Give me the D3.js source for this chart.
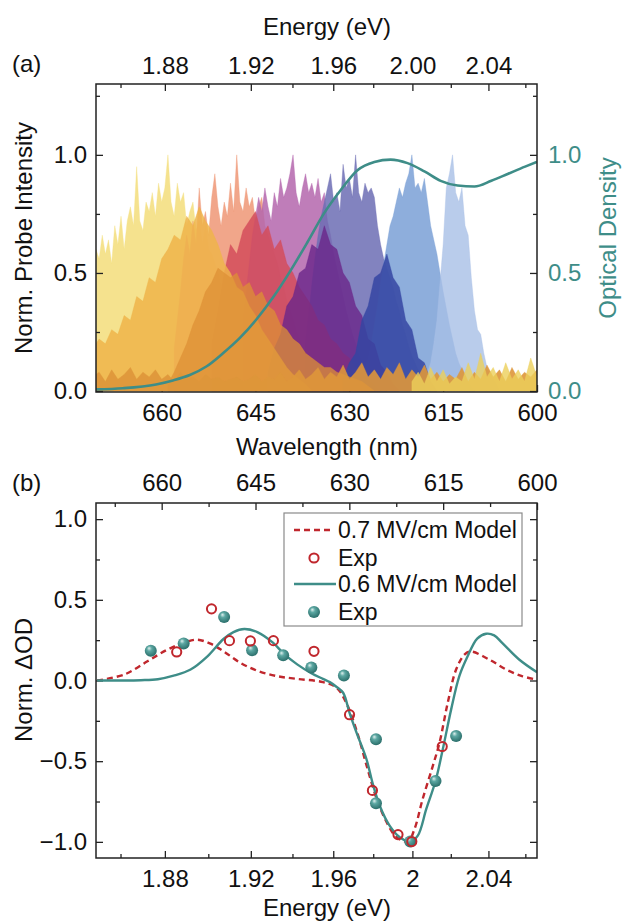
<!DOCTYPE html>
<html>
<head>
<meta charset="utf-8">
<script src="https://cdn.jsdelivr.net/npm/d3@7"></script>
<style>
  body { margin: 0; background: #fff; }
  svg text { font-family: "Liberation Sans", Arial, sans-serif; }
</style>
</head>
<body>
<svg id="chart" width="622" height="924"></svg>
<script>
var EV = 1239.84;   // eV * nm

// ---- panel (a): probe spectra. Light ones every 0.5 nm, dark ones every 1 nm,
// going down from the start wavelength
var yellowStart = 671,
    yellow = [.52, .60, .56, .66, .58, .64, .54, .70, .62, .74, .60, .72, .78, .70, .95, .72, .68, .80, .76, .84,
              .74, .88, .80, .86, 1.0, .80, .74, .88, .80, .84, .70, .76, .80, .68, .72, .62, .70, .60, .58, .54,
              .50, .44, .40, .36, .32, .28, .24, .20, .17, .14, .12, .10, .09, .08, .07, .06, .05, .05, .04, .04,
              .03, .03, .02, .02, .01, .01, 0];
var salmonStart = 658,
    salmon = [.18, .30, .42, .56, .66, .58, .72, .62, .86, .70, .76, .66, .82, .92, .78, .70, .80, .74, .88, .76,
              1.0, .80, .76, .86, .78, .82, .72, .78, .82, .70, .66, .62, .58, .54, .48, .44, .38, .34, .30, .25,
              .22, .18, .15, .12, .10, .08, .06, .04, .03, .02, 0];
var magentaStart = 647,
    magenta = [.30, .42, .54, .66, .74, .82, .76, .86, .78, .72, .84, .78, .90, .82, .86, .92, 1.0, .84, .78, .86,
               .92, .84, .88, .82, .90, .80, .84, .72, .66, .58, .52, .46, .40, .34, .29, .24, .20, .16, .13, .10,
               .08, .06, .05, .04, .03, .02, 0];
var bluePurpleStart = 637,
    bluePurple = [.20, .32, .45, .56, .66, .74, .80, .86, .92, .80, .84, .76, .96, .86, .90, .82, 1.0, .84, .80, .88,
                  .84, .86, .82, .70, .62, .56, .52, .48, .44, .38, .34, .28, .24, .19, .15, .12, .09, .07, .05, .03, 0];
var lightBlueStart = 628,
    lightBlue = [.06, .10, .14, .20, .28, .36, .46, .54, .62, .70, .74, .80, .86, .82, .88, .92, 1.0, .86, .88, .84,
                 .90, .80, .70, .64, .58, .50, .42, .35, .28, .22, .16, .12, .09, .06, .04, .02, 0];
var paleBlueStart = 618,
    paleBlue = [.04, .08, .12, .20, .30, .46, .62, .86, .92, 1.0, .84, .80, .86, .70, .66, .48, .34, .26, .24, .16,
                .10, .07, .05, .03, 0];
var redStart = 652,
    red = [.20, .34, .50, .62, .58, .68, .72, .76, .66, .70, .60, .64, .54, .50, .44, .40, .36, .30, .28, .22,
           .20, .16, .14, .10, .08, .05, .03, 0];
var darkPurpleStart = 643,
    darkPurple = [.08, .18, .24, .36, .40, .50, .52, .62, .60, .70, .62, .60, .50, .46, .36, .32, .22, .20, .11, .08, .03, 0];
var navyStart = 631,
    navy = [.05, .12, .16, .30, .36, .48, .50, .58, .48, .44, .30, .26, .14, .12, .04, 0];
var orangeStart = 671,
    orange = [.18, .22, .20, .26, .24, .32, .30, .40, .38, .48, .46, .56, .60, .66, .64, .74, .70, .78, .72, .68,
              .62, .54, .50, .44, .42, .36, .32, .26, .22, .18, .14, .10, .07, .05, .03, 0];
var darkOrangeStart = 659,
    darkOrange = [.03, .08, .14, .20, .28, .34, .42, .46, .52, .50, .48, .50, .44, .46, .40, .42, .36, .34, .28, .26,
                  .22, .20, .16, .14, .12, .10, .10, .08, .07, .06, .05, .04, .02, 0];
var floorStart = 671,
    floor = [.06, .08, .04, .09, .05, .07, .10, .05, .08, .06, .09, .05, .07, .04, .08, .05, .06, .04, .07, .05,
             .06, .04, .05, .06, .04, .05, .07, .04, .06, .05, .08, .04, .06, .09, .05, .07, .10, .05, .08, .06,
             .11, .05, .08, .12, .06, .09, .05, .10, .07, .12, .05, .09, .06, .11, .05, .08, .04, .07, .05, .10,
             .04, .08, .05, .11, .06, .09, .04, .10, .05, .08, .06, .09];
var yellowFloorStart = 620,
    yellowFloor = [.04, .08, .03, .10, .04, .09, .03, .06, .04, .12, .05, .16, .06, .10, .04, .12, .05, .09, .04, .14, .06];

// optical density of the sample
var odWl  = [670.6, 666.2, 660.9, 658.2, 655.5, 652.8, 650.2, 647.5, 644.8, 642.1, 639.4, 636.7, 634.1, 631.4,
             628.7, 626.0, 623.4, 620.7, 618.0, 615.4, 612.7, 610.0, 607.3, 604.6, 601.9, 600.0];
var odVal = [.007, .012, .028, .045, .068, .105, .16, .225, .305, .40, .51, .63, .75, .85,
             .935, .97, .98, .965, .93, .89, .87, .866, .89, .92, .95, .97];

// ---- panel (b): electroabsorption
var redModelE = [1.8496, 1.8617, 1.8721, 1.8811, 1.8886, 1.8949, 1.9010, 1.9071, 1.9150, 1.9232, 1.9325, 1.9421,
                 1.9549, 1.9617, 1.9668, 1.9717, 1.9767, 1.9818, 1.9868, 1.9919, 1.9977, 2.0011, 2.0053, 2.0106,
                 2.0141, 2.0184, 2.0228, 2.0272, 2.0304, 2.0404, 2.0496, 2.0582, 2.0664];
var redModelV = [0, .037, .119, .191, .233, .253, .228, .181, .11, .06, .027, .01,
                 -.01, -.045, -.148, -.313, -.529, -.735, -.878, -.971, -.998, -.92, -.735, -.529,
                 -.385, -.138, .068, .16, .18, .13, .068, .027, .005];
var tealModelE = [1.8496, 1.8615, 1.8691, 1.8768, 1.8840, 1.8918, 1.8996, 1.9071, 1.9118, 1.9169, 1.9231, 1.9307,
                  1.9355, 1.9423, 1.9492, 1.9549, 1.9583, 1.9617, 1.9649, 1.9681, 1.9716, 1.9766, 1.9796, 1.9833,
                  1.9883, 1.9935, 1.9989, 2.0028, 2.0072, 2.0120, 2.0158, 2.0202, 2.0245, 2.0289, 2.0340, 2.0388,
                  2.0431, 2.0474, 2.0566, 2.0664];
var tealModelV = [0, 0, .002, .008, .03, .068, .15, .257, .30, .319, .30, .233,
                  .17, .10, .045, .01, -.01, -.04, -.076, -.2, -.323, -.488, -.632, -.776,
                  -.899, -.971, -.998, -.961, -.796, -.623, -.426, -.179, .027, .15, .26, .29,
                  .28, .233, .13, .051];
var redExpE = [1.8854, 1.9015, 1.9099, 1.9198, 1.9308, 1.9505, 1.9681, 1.9796, 1.9926, 1.9997, 2.0155];
var redExpV = [.177, .444, .247, .245, .247, .181, -.212, -.681, -.955, -.998, -.409];
var tealExpE = [1.8736, 1.8886, 1.9074, 1.9206, 1.9355, 1.9492, 1.9653, 1.9814, 1.9814, 1.9989, 2.0120, 2.0228];
var tealExpV = [.185, .23, .393, .187, .156, .080, .031, -.364, -.761, -.998, -.623, -.344];

// ticks
var eMajor = [1.88, 1.92, 1.96, 2.00, 2.04],
    eMinor = [1.86, 1.90, 1.94, 1.98, 2.02, 2.06],
    eLabelsA = ["1.88", "1.92", "1.96", "2.00", "2.04"],
    eLabelsB = ["1.88", "1.92", "1.96", "2", "2.04"],
    wlMajor = [660, 645, 630, 615, 600],
    wlMinor = [667.5, 652.5, 637.5, 622.5, 607.5];

var FONT = "Liberation Sans, Arial, sans-serif",
    TEAL = "#3e8d88",
    DARKRED = "#c0272d";

var svg = d3.select("#chart");

var xA = d3.scaleLinear().domain([670.5, 600]).range([96, 537]),
    yA = d3.scaleLinear().domain([-0.004, 1.3]).range([392, 84]),
    xB = xA.copy(),
    yB = d3.scaleLinear().domain([-1.1, 1.1]).range([858, 503]);

var defs = svg.append("defs");
defs.append("clipPath").attr("id", "clipA")
    .append("rect").attr("x", 96).attr("y", 84).attr("width", 441).attr("height", 308);
defs.append("clipPath").attr("id", "clipB")
    .append("rect").attr("x", 96).attr("y", 503).attr("width", 441).attr("height", 355);
var ball = defs.append("radialGradient").attr("id", "ball")
    .attr("cx", "45%").attr("cy", "40%").attr("r", "60%").attr("fx", "35%").attr("fy", "30%");
ball.append("stop").attr("offset", "0%").attr("stop-color", "#dff0ee");
ball.append("stop").attr("offset", "35%").attr("stop-color", "#5ca7a2");
ball.append("stop").attr("offset", "100%").attr("stop-color", "#2a6e6a");

function styleAxis(g, textColor) {
  g.select(".domain").remove();
  g.attr("font-size", 24).attr("font-family", FONT);
  g.selectAll("text").attr("fill", textColor || "#111");
  g.selectAll("line").attr("stroke", "#222").attr("stroke-width", 1.3);
}

function addText(x, y, txt, opts) {
  opts = opts || {};
  var t = svg.append("text")
    .attr("x", x).attr("y", y)
    .attr("font-size", opts.size || 24)
    .attr("text-anchor", opts.anchor || "middle")
    .attr("fill", opts.color || "#111")
    .text(txt);
  if (opts.rotate) t.attr("transform", "rotate(-90," + x + "," + y + ")");
  return t;
}

// ---------------- panel (a)
var gA = svg.append("g");

// bottom wavelength ticks sit under the spectra
gA.append("g").attr("transform", "translate(0,392)")
  .call(d3.axisBottom(xA).tickValues(wlMajor).tickSizeInner(-7).tickSizeOuter(0).tickPadding(12))
  .call(styleAxis);

function spectrum(start, step, vals) {
  return vals.map(function(v, i) { return { wl: start - i * step, v: v }; });
}

var layers = [
  { d: spectrum(yellowStart, 0.5, yellow),         color: "#f4df82", op: 0.9 },
  { d: spectrum(salmonStart, 0.5, salmon),         color: "#ee9676", op: 0.85 },
  { d: spectrum(magentaStart, 0.5, magenta),       color: "#b466ad", op: 0.85 },
  { d: spectrum(bluePurpleStart, 0.5, bluePurple), color: "#6c6db4", op: 0.85 },
  { d: spectrum(lightBlueStart, 0.5, lightBlue),   color: "#7aa0d6", op: 0.85 },
  { d: spectrum(paleBlueStart, 0.5, paleBlue),     color: "#a7bfe6", op: 0.8 },
  { d: spectrum(redStart, 1, red),                 color: "#d44c5a", op: 0.85 },
  { d: spectrum(darkPurpleStart, 1, darkPurple),   color: "#6a2689", op: 0.8 },
  { d: spectrum(navyStart, 1, navy),               color: "#3545a2", op: 0.85 },
  { d: spectrum(orangeStart, 1, orange),           color: "#efb44a", op: 0.85 },
  { d: spectrum(darkOrangeStart, 1, darkOrange),   color: "#de9035", op: 0.75 },
  { d: spectrum(floorStart, 1, floor),             color: "#de963a", op: 0.9 },
  { d: spectrum(yellowFloorStart, 1, yellowFloor), color: "#eccf5a", op: 0.8 }
];

var area = d3.area()
  .x(function(d) { return xA(d.wl); })
  .y0(yA(0))
  .y1(function(d) { return yA(d.v); });

var spec = gA.append("g").attr("clip-path", "url(#clipA)");
spec.selectAll("path.spec")
  .data(layers)
  .enter().append("path")
  .attr("class", "spec")
  .attr("d", function(l) { return area(l.d); })
  .attr("fill", function(l) { return l.color; })
  .attr("fill-opacity", function(l) { return l.op; })
  .attr("stroke", function(l) { return l.color; })
  .attr("stroke-opacity", 0.6)
  .attr("stroke-width", 0.6);

var odLine = d3.line()
  .x(function(d, i) { return xA(odWl[i]); })
  .y(function(d) { return yA(d); })
  .curve(d3.curveMonotoneX);

spec.append("path")
  .datum(odVal)
  .attr("d", odLine)
  .attr("fill", "none")
  .attr("stroke", TEAL)
  .attr("stroke-width", 2.6);

// axes (a)
gA.append("g").attr("transform", "translate(96,0)")
  .call(d3.axisLeft(yA).tickValues([0, 0.5, 1]).tickFormat(d3.format(".1f"))
        .tickSizeInner(-7).tickSizeOuter(0).tickPadding(9))
  .call(styleAxis);
gA.append("g").attr("transform", "translate(96,0)")
  .call(d3.axisLeft(yA).tickValues([0.25, 0.75, 1.25]).tickFormat("").tickSize(-4))
  .call(styleAxis);
gA.append("g").attr("transform", "translate(537,0)")
  .call(d3.axisRight(yA).tickValues([0, 0.5, 1]).tickFormat(d3.format(".1f"))
        .tickSizeInner(-7).tickSizeOuter(0).tickPadding(11))
  .call(function(g) { styleAxis(g, TEAL); });
gA.append("g").attr("transform", "translate(537,0)")
  .call(d3.axisRight(yA).tickValues([0.25, 0.75, 1.25]).tickFormat("").tickSize(-4))
  .call(styleAxis);
gA.append("g").attr("transform", "translate(0,84)")
  .call(d3.axisTop(xA).tickValues(eMajor.map(function(e) { return EV / e; }))
        .tickFormat(function(d, i) { return eLabelsA[i]; })
        .tickSizeInner(-7).tickSizeOuter(0).tickPadding(10))
  .call(styleAxis);
gA.append("g").attr("transform", "translate(0,84)")
  .call(d3.axisTop(xA).tickValues(eMinor.map(function(e) { return EV / e; })).tickFormat("").tickSize(-4))
  .call(styleAxis);

gA.append("rect").attr("x", 96).attr("y", 84).attr("width", 441).attr("height", 308)
  .attr("fill", "none").attr("stroke", "#222").attr("stroke-width", 1.5);

addText(12, 72, "(a)", { anchor: "start" });
addText(327, 35, "Energy (eV)");
addText(327, 455, "Wavelength (nm)");
addText(32, 238, "Norm. Probe Intensity", { rotate: true });
addText(616, 238, "Optical Density", { rotate: true, color: TEAL });

// ---------------- panel (b)
var gB = svg.append("g");

gB.append("g").attr("transform", "translate(96,0)")
  .call(d3.axisLeft(yB).tickValues([-1, -0.5, 0, 0.5, 1]).tickFormat(d3.format(".1f"))
        .tickSizeInner(-7).tickSizeOuter(0).tickPadding(9))
  .call(styleAxis);
gB.append("g").attr("transform", "translate(96,0)")
  .call(d3.axisLeft(yB).tickValues([-0.75, -0.25, 0.25, 0.75]).tickFormat("").tickSize(-4))
  .call(styleAxis);
gB.append("g").attr("transform", "translate(537,0)")
  .call(d3.axisRight(yB).tickValues([-1, -0.5, 0, 0.5, 1]).tickFormat("").tickSize(-7))
  .call(styleAxis);
gB.append("g").attr("transform", "translate(537,0)")
  .call(d3.axisRight(yB).tickValues([-0.75, -0.25, 0.25, 0.75]).tickFormat("").tickSize(-4))
  .call(styleAxis);
gB.append("g").attr("transform", "translate(0,503)")
  .call(d3.axisTop(xB).tickValues(wlMajor).tickSizeInner(-7).tickSizeOuter(0).tickPadding(12))
  .call(styleAxis);
gB.append("g").attr("transform", "translate(0,503)")
  .call(d3.axisTop(xB).tickValues(wlMinor).tickFormat("").tickSize(-4))
  .call(styleAxis);
gB.append("g").attr("transform", "translate(0,858)")
  .call(d3.axisBottom(xB).tickValues(eMajor.map(function(e) { return EV / e; }))
        .tickFormat(function(d, i) { return eLabelsB[i]; })
        .tickSizeInner(-7).tickSizeOuter(0).tickPadding(12))
  .call(styleAxis);
gB.append("g").attr("transform", "translate(0,858)")
  .call(d3.axisBottom(xB).tickValues(eMinor.map(function(e) { return EV / e; })).tickFormat("").tickSize(-4))
  .call(styleAxis);

var plotB = gB.append("g").attr("clip-path", "url(#clipB)");

function modelLine(E) {
  return d3.line()
    .x(function(d, i) { return xB(EV / E[i]); })
    .y(function(d) { return yB(d); })
    .curve(d3.curveCatmullRom.alpha(0.5));
}

plotB.append("path").datum(redModelV)
  .attr("d", modelLine(redModelE))
  .attr("fill", "none").attr("stroke", DARKRED)
  .attr("stroke-width", 2.4).attr("stroke-dasharray", "6,4");
plotB.append("path").datum(tealModelV)
  .attr("d", modelLine(tealModelE))
  .attr("fill", "none").attr("stroke", TEAL).attr("stroke-width", 2.4);

plotB.selectAll("circle.teal")
  .data(tealExpV).enter().append("circle")
  .attr("class", "teal")
  .attr("cx", function(d, i) { return xB(EV / tealExpE[i]); })
  .attr("cy", function(d) { return yB(d); })
  .attr("r", 6)
  .attr("fill", "url(#ball)");
plotB.selectAll("circle.red")
  .data(redExpV).enter().append("circle")
  .attr("class", "red")
  .attr("cx", function(d, i) { return xB(EV / redExpE[i]); })
  .attr("cy", function(d) { return yB(d); })
  .attr("r", 4.6)
  .attr("fill", "none").attr("stroke", DARKRED).attr("stroke-width", 2);

gB.append("rect").attr("x", 96).attr("y", 503).attr("width", 441).attr("height", 355)
  .attr("fill", "none").attr("stroke", "#222").attr("stroke-width", 1.5);

// legend
var legend = gB.append("g").attr("transform", "translate(284,513)");
legend.append("rect").attr("width", 238).attr("height", 113)
  .attr("fill", "#fff").attr("stroke", "#8a8a8a").attr("stroke-width", 1.2);
var rows = [17, 45, 71, 99];
legend.append("line").attr("x1", 10).attr("x2", 47).attr("y1", rows[0]).attr("y2", rows[0])
  .attr("stroke", DARKRED).attr("stroke-width", 2.4).attr("stroke-dasharray", "6,4");
legend.append("circle").attr("cx", 30).attr("cy", rows[1]).attr("r", 4.6)
  .attr("fill", "none").attr("stroke", DARKRED).attr("stroke-width", 2);
legend.append("line").attr("x1", 10).attr("x2", 52).attr("y1", rows[2]).attr("y2", rows[2])
  .attr("stroke", TEAL).attr("stroke-width", 2.4);
legend.append("circle").attr("cx", 30).attr("cy", rows[3]).attr("r", 6).attr("fill", "url(#ball)");
var labels = ["0.7 MV/cm Model", "Exp", "0.6 MV/cm Model", "Exp"];
legend.selectAll("text.lab").data(labels).enter().append("text")
  .attr("class", "lab")
  .attr("x", 54)
  .attr("y", function(d, i) { return rows[i]; })
  .attr("dy", "0.36em")
  .attr("font-size", 23)
  .attr("fill", "#111")
  .text(function(d) { return d; });

addText(12, 491, "(b)", { anchor: "start" });
addText(327, 916, "Energy (eV)");
addText(32, 680, "Norm. \u0394OD", { rotate: true });
</script>
</body>
</html>
